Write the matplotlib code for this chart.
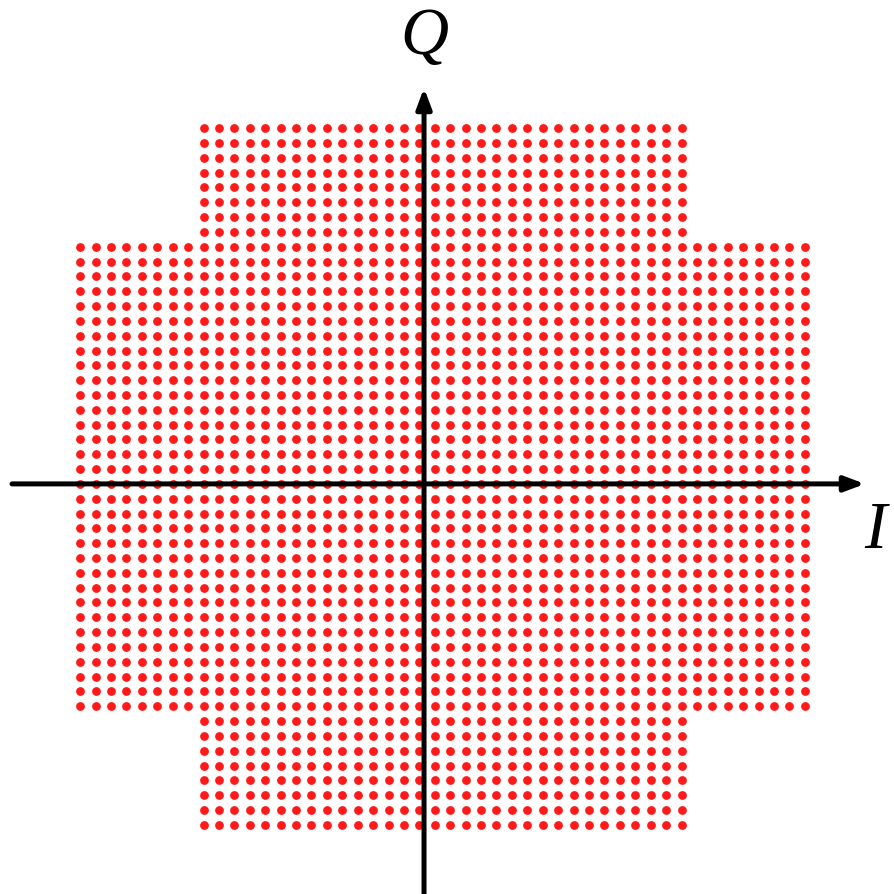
"""
Cross-shaped 2048-QAM constellation on I/Q axes.
"""

import numpy as np
import matplotlib.pyplot as plt

# amplitude levels of the 48 x 48 square grid (odd integers)
LEVELS = list(range(-47, 48, 2))
# corner blocks removed to make the cross: |I| and |Q| both beyond this
CORNER_LIMIT = 31

AXIS_LABELS = ["I", "Q"]

POINT_COLOR = "#ff1a1a"


def cross_constellation(levels, limit):
    lv = np.array(levels)
    ii, qq = np.meshgrid(lv, lv)
    ii, qq = ii.ravel(), qq.ravel()
    keep = ~((np.abs(ii) > limit) & (np.abs(qq) > limit))
    return ii[keep], qq[keep]


def main() -> None:
    i_pts, q_pts = cross_constellation(LEVELS, CORNER_LIMIT)

    fig = plt.figure(figsize=(8.94, 8.94), dpi=100)
    ax = fig.add_axes([0, 0, 1, 1])
    ax.set_xlim(-57.4, 58.56)
    ax.set_ylim(-56.34, 64.3)
    ax.axis("off")

    ax.scatter(i_pts, q_pts, s=40, marker="o", color=POINT_COLOR,
               linewidths=0, zorder=2)

    arrow = dict(arrowstyle="-|>,head_length=1.2,head_width=0.45",
                 color="black", lw=3.6, shrinkA=0, shrinkB=0)
    # horizontal (I) axis
    ax.annotate("", xy=(54.8, -1.0), xytext=(-55.84, -1.0),
                arrowprops=arrow, zorder=3)
    # vertical (Q) axis
    ax.annotate("", xy=(-2.4, 52.43), xytext=(-2.4, -56.34),
                arrowprops=arrow, zorder=3)

    label_font = dict(family="Liberation Serif", style="italic",
                      fontsize=48, color="black")
    ax.text(56.1, -7.4, AXIS_LABELS[0], ha="center", va="center",
            **label_font)
    ax.text(-2.3, 59.3, AXIS_LABELS[1], ha="center", va="center",
            **label_font)

    fig.savefig("out.png", dpi=100, facecolor="white")
    plt.close(fig)


if __name__ == "__main__":
    main()
